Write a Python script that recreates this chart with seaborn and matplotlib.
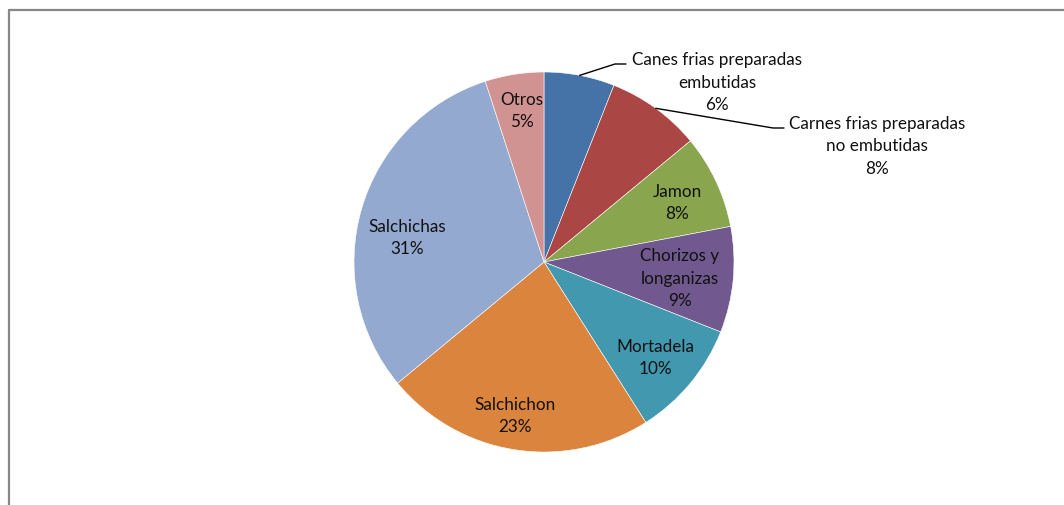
import matplotlib
matplotlib.use("Agg")
import matplotlib.pyplot as plt
from matplotlib.lines import Line2D
import seaborn as sns

categories = ["Canes frias preparadas\nembutidas",
              "Carnes frias preparadas\nno embutidas",
              "Jamon", "Chorizos y\nlonganizas", "Mortadela",
              "Salchichon", "Salchichas", "Otros"]
shares = [6, 8, 8, 9, 10, 23, 31, 5]
slice_colors = ["#4572A7", "#AA4643", "#89A54E", "#71588F",
                "#4198AF", "#DB843D", "#93A9CF", "#D19392"]

sns.set_theme(style="white")
plt.rcParams["font.family"] = ["Lato", "DejaVu Sans"]

W, H = 1064, 505
fig = plt.figure(figsize=(W / 100, H / 100), dpi=100)
fig.patch.set_facecolor("white")

cx, cy, r = 544, 262, 190
ax = fig.add_axes([(cx - r) / W, (H - cy - r) / H, 2 * r / W, 2 * r / H])
palette = sns.color_palette(slice_colors)
wedges, _ = ax.pie(shares, colors=palette, startangle=90, counterclock=False,
                   radius=1, wedgeprops=dict(edgecolor="white", linewidth=0.4))
ax.set_xlim(-1, 1)
ax.set_ylim(-1, 1)
ax.set_aspect("equal")
ax.axis("off")


def to_data(px, py):
    return (px - cx) / r, (cy - py) / r


# label anchor points (pixel centres of each text block)
label_pos = [(717, 83), (877, 146), (677, 203), (680, 279),
             (655, 358), (515, 416), (407, 238), (522, 111)]
fs = 12.3
for name, val, (px, py) in zip(categories, shares, label_pos):
    x, y = to_data(px, py)
    ax.text(x, y, f"{name}\n{val}%", ha="center", va="center",
            fontsize=fs, color="#111111", linespacing=1.5)

# leader lines for the two labels placed outside the pie
for pts in [[(579.6, 75.4), (615, 64), (626, 64)],
            [(655.7, 108.3), (773, 128), (784, 128)]]:
    xs, ys = zip(*[to_data(*p) for p in pts])
    ax.plot(xs, ys, color="black", lw=1.0, clip_on=False)

# chart-area frame (left and top edges fall inside the canvas)
frame_kw = dict(color="#878787", lw=1.6, transform=fig.transFigure)
fig.add_artist(Line2D([9 / W, 9 / W], [0, 1 - 10 / H], **frame_kw))
fig.add_artist(Line2D([9 / W, 1], [1 - 10 / H, 1 - 10 / H], **frame_kw))

fig.savefig("out.png", dpi=100, facecolor="white")
